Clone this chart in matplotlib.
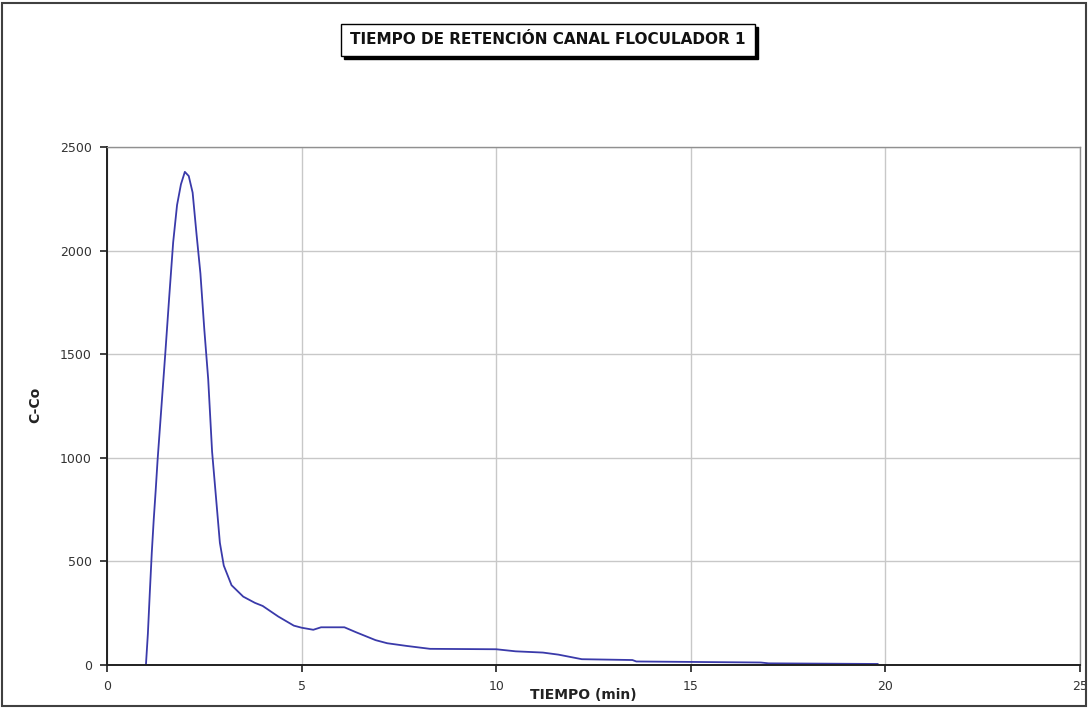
import matplotlib
matplotlib.use('Agg')
import matplotlib.pyplot as plt
from matplotlib.patches import Rectangle

# Data (time in min, C-Co)
tiempo = [1.0, 1.05, 1.1, 1.15, 1.2, 1.25, 1.3, 1.4, 1.5, 1.6, 1.7, 1.8, 1.9, 2.0,
          2.1, 2.2, 2.3, 2.4, 2.5, 2.6, 2.7, 2.8, 2.9, 3.0, 3.2, 3.5, 3.8, 4.0,
          4.4, 4.8, 5.0, 5.3, 5.5, 6.1, 6.4, 6.9, 7.2, 7.7, 8.3, 10.0, 10.5,
          11.2, 11.6, 12.2, 13.5, 13.6, 16.8, 17.0, 19.8]
c_co = [0, 150, 350, 540, 700, 840, 990, 1250, 1510, 1780, 2040, 2220, 2320, 2380,
        2360, 2280, 2080, 1890, 1620, 1380, 1030, 810, 590, 480, 385, 330, 300, 285,
        234, 190, 180, 170, 182, 182, 158, 120, 105, 92, 78, 76, 66,
        60, 50, 28, 24, 17, 12, 8, 5]

x_ticks = [0, 5, 10, 15, 20, 25]
y_ticks = [0, 500, 1000, 1500, 2000, 2500]

W, H = 1089, 709
fig = plt.figure(figsize=(W / 100, H / 100), dpi=100)
fig.patch.set_facecolor('white')

ax = fig.add_axes([107 / W, 1 - 665 / H, (1080 - 107) / W, (665 - 147) / H])
ax.plot(tiempo, c_co, color='#3a3aaa', linewidth=1.3)

ax.set_xlim(0, 25)
ax.set_ylim(0, 2500)
ax.set_xticks(x_ticks)
ax.set_yticks(y_ticks)
ax.grid(True, color='#c8c8c8', linewidth=1.0)
ax.set_axisbelow(True)

for side in ['top', 'right']:
    ax.spines[side].set_color('#909090')
    ax.spines[side].set_linewidth(1.0)
for side in ['left', 'bottom']:
    ax.spines[side].set_color('#202020')
    ax.spines[side].set_linewidth(1.4)

ax.tick_params(axis='both', direction='out', length=5, width=1.2, color='#202020',
               labelsize=9, labelcolor='#333333')
ax.tick_params(axis='x', pad=6)
ax.tick_params(axis='y', pad=6)

ax.set_xlabel('TIEMPO (min)', fontsize=10, fontweight='bold', color='#222222')
ax.xaxis.set_label_coords((583 - 107) / (1080 - 107), -0.045)
ax.set_ylabel('C-Co', fontsize=10, fontweight='bold', color='#222222')
ax.yaxis.set_label_coords((42 - 107) / (1080 - 107), (665 - 405) / (665 - 147))

# Title box with shadow, Excel style
bx0, by0, bx1, by1 = 341, 24, 755, 56
fig.patches.append(Rectangle((bx0 / W + 3 / W, 1 - by1 / H - 3 / H), (bx1 - bx0) / W,
                             (by1 - by0) / H, transform=fig.transFigure,
                             facecolor='black', edgecolor='black', zorder=1))
fig.patches.append(Rectangle((bx0 / W, 1 - by1 / H), (bx1 - bx0) / W, (by1 - by0) / H,
                             transform=fig.transFigure, facecolor='white',
                             edgecolor='black', linewidth=1.0, zorder=2))
fig.text((bx0 + bx1) / 2 / W, 1 - 40 / H, 'TIEMPO DE RETENCIÓN CANAL FLOCULADOR 1',
         ha='center', va='center', fontsize=11, fontweight='bold', color='#111111', zorder=3)

# Outer chart border
fig.patches.append(Rectangle((2 / W, 3 / H), (W - 5) / W, (H - 6) / H,
                             transform=fig.transFigure, facecolor='none',
                             edgecolor='#404040', linewidth=1.5, zorder=0))

fig.savefig('out.png', dpi=100)
